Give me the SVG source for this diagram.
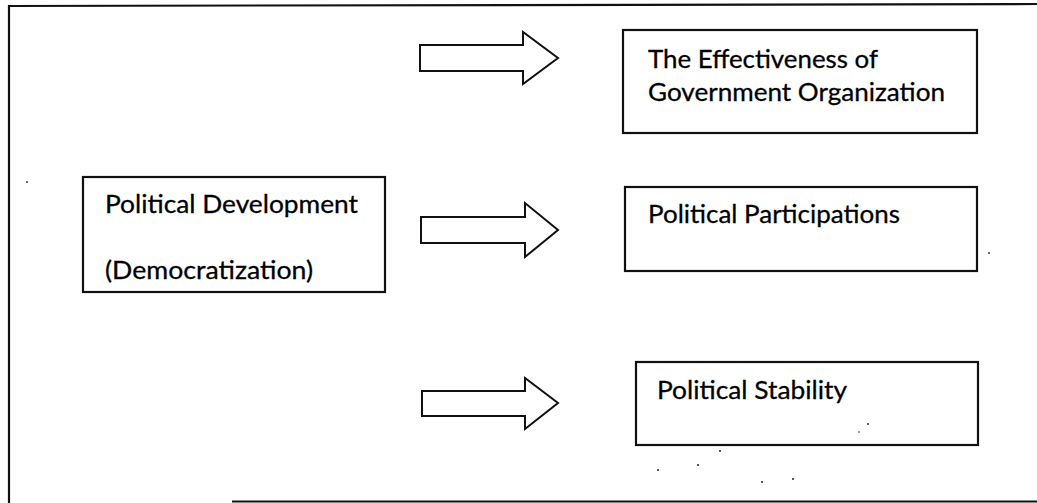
<svg xmlns="http://www.w3.org/2000/svg" width="1037" height="503" viewBox="0 0 1037 503">
  <style>
    .frame { fill: none; stroke: #111; stroke-width: 2.2; }
    .box { fill: #fff; stroke: #111; stroke-width: 2.2; }
    .arrow { fill: #fff; stroke: #111; stroke-width: 2; stroke-linejoin: miter; }
    .label { font-family: Lato, "Open Sans", "Liberation Sans", sans-serif; font-size: 25.5px; fill: #000; stroke: #000; stroke-width: 0.3; }
    .speck { fill: #222; }
  </style>
  <rect x="0" y="0" width="1037" height="503" fill="#fff"/>

  <!-- outer frame -->
  <g id="frame">
    <path class="frame" d="M9,503 L9,6 L1037,4"/>
    <line class="frame" x1="232" y1="501.5" x2="1037" y2="501.5"/>
  </g>

  <!-- source node -->
  <g id="node-development">
    <rect class="box" x="83" y="177" width="302" height="115"/>
    <text class="label" x="105" y="213" textLength="253" lengthAdjust="spacingAndGlyphs">Political Development</text>
    <text class="label" x="105" y="279" textLength="208" lengthAdjust="spacingAndGlyphs">(Democratization)</text>
  </g>

  <!-- outcome nodes -->
  <g id="node-effectiveness">
    <rect class="box" x="623" y="30" width="354" height="103"/>
    <text class="label" x="648" y="68" textLength="230" lengthAdjust="spacingAndGlyphs">The Effectiveness of</text>
    <text class="label" x="648" y="101" textLength="297" lengthAdjust="spacingAndGlyphs">Government Organization</text>
  </g>
  <g id="node-participation">
    <rect class="box" x="625" y="187" width="352" height="84"/>
    <text class="label" x="648" y="223" textLength="252" lengthAdjust="spacingAndGlyphs">Political Participations</text>
  </g>
  <g id="node-stability">
    <rect class="box" x="636" y="362" width="342" height="83"/>
    <text class="label" x="657" y="399" textLength="190" lengthAdjust="spacingAndGlyphs">Political Stability</text>
  </g>

  <!-- block arrows -->
  <g id="connectors">
    <path class="arrow" d="M420,45 L523,45 L523,32 L558,58 L523,84 L523,71 L420,71 Z"/>
    <path class="arrow" d="M421,217 L525,217 L525,203 L558,230 L525,257 L525,243 L421,243 Z"/>
    <path class="arrow" d="M422,391 L525,391 L525,378 L558,403 L525,429 L525,416 L422,416 Z"/>
  </g>

  <!-- specks -->
  <g id="specks">
    <circle class="speck" cx="27" cy="182" r="0.9"/>
    <circle class="speck" cx="989" cy="253" r="0.9"/>
    <circle class="speck" cx="868" cy="424" r="1"/>
    <circle class="speck" cx="859" cy="432" r="0.8"/>
    <circle class="speck" cx="720" cy="451" r="1"/>
    <circle class="speck" cx="658" cy="470" r="1"/>
    <circle class="speck" cx="698" cy="465" r="1"/>
    <circle class="speck" cx="762" cy="482" r="1"/>
    <circle class="speck" cx="793" cy="479" r="1"/>
  </g>
</svg>
